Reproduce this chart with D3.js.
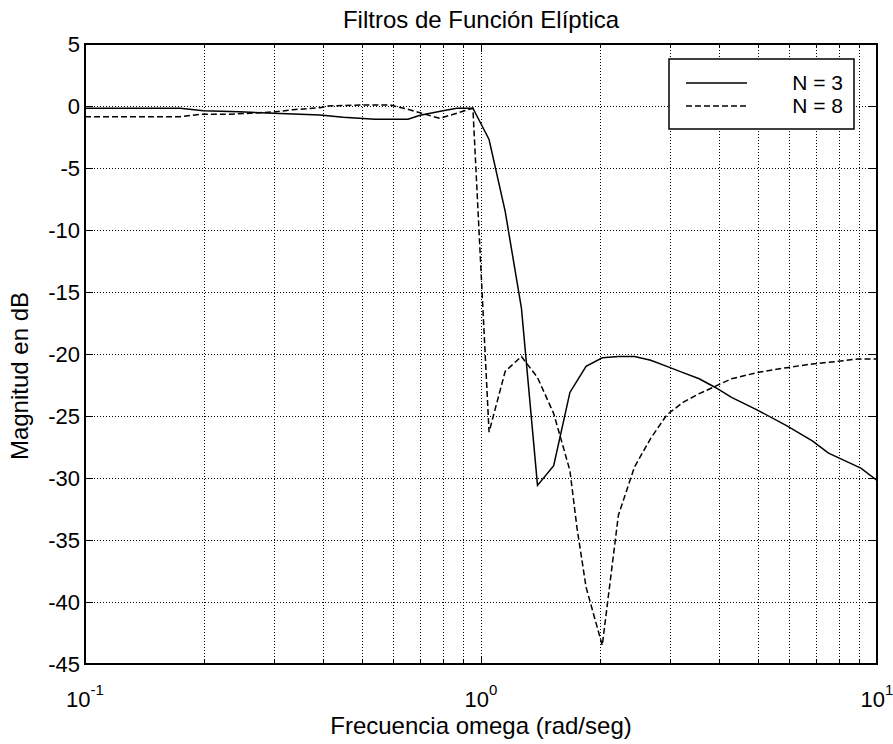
<!DOCTYPE html>
<html>
<head>
<meta charset="utf-8">
<script src="https://cdn.jsdelivr.net/npm/d3@7"></script>
<style>
  body { margin: 0; background: #fff; }
  text { font-family: "Liberation Sans", Arial, sans-serif; fill: #000; }
</style>
</head>
<body>
<script>
// frequency (rad/seg) and magnitude (dB)
var wN3 = [0.1, 0.174, 0.199, 0.245, 0.299, 0.392, 0.449, 0.54, 0.654, 0.702, 0.802, 0.869, 0.954,
  1.048, 1.151, 1.265, 1.389, 1.526, 1.677, 1.842, 2.024, 2.223, 2.442, 2.683, 2.947, 3.237, 3.556,
  3.907, 4.292, 4.977, 5.924, 6.866, 7.543, 8.286, 9.103, 10];
var dbN3 = [-0.18, -0.18, -0.38, -0.46, -0.59, -0.73, -0.91, -1.07, -1.07, -0.75, -0.38, -0.19, -0.18,
  -2.7, -8.5, -16.3, -30.6, -29.0, -23.1, -21.0, -20.3, -20.2, -20.2, -20.5, -21.0, -21.5, -22.0,
  -22.7, -23.5, -24.5, -25.8, -27.0, -28.0, -28.6, -29.2, -30.2];

var wN8 = [0.1, 0.174, 0.195, 0.232, 0.299, 0.335, 0.392, 0.409, 0.494, 0.589, 0.65, 0.787, 0.954,
  1.048, 1.151, 1.265, 1.389, 1.526, 1.677, 1.747, 1.842, 2.024, 2.223, 2.442, 2.683, 2.947, 3.237,
  3.556, 4.292, 4.977, 5.924, 6.866, 7.925, 8.954, 10];
var dbN8 = [-0.86, -0.86, -0.67, -0.67, -0.48, -0.3, -0.14, 0, 0.08, 0.08, -0.24, -1.0, -0.18,
  -26.3, -21.4, -20.2, -21.9, -24.8, -29.4, -34.0, -38.8, -43.5, -33.0, -29.1, -26.8, -24.9, -23.9,
  -23.2, -22.0, -21.5, -21.1, -20.8, -20.6, -20.4, -20.4];

var yTicks = [5, 0, -5, -10, -15, -20, -25, -30, -35, -40, -45];
var xDecades = [0.1, 1, 10];
var xExp = ["-1", "0", "1"];
var seriesNames = ["N = 3", "N = 8"];

var W = 893, H = 744;
var mLeft = 85, mRight = 877, mTop = 44, mBottom = 664;

var svg = d3.select("body").append("svg").attr("width", W).attr("height", H);

var x = d3.scaleLog().domain([0.1, 10]).range([mLeft, mRight]);
var y = d3.scaleLinear().domain([-45, 5]).range([mBottom, mTop]);

// minor log grid values
var gridX = [];
xDecades.slice(0, 2).forEach(function (d) {
  for (var k = 1; k <= 9; k++) gridX.push(d * k);
});
gridX.push(10);

// grid
var grid = svg.append("g").attr("stroke", "#000").attr("stroke-width", 1)
  .attr("stroke-dasharray", "1,2");
grid.selectAll(".gx").data(gridX.filter(function (d) { return d > 0.1 && d < 10; }))
  .enter().append("line")
  .attr("x1", function (d) { return Math.round(x(d)) + 0.5; })
  .attr("x2", function (d) { return Math.round(x(d)) + 0.5; })
  .attr("y1", mTop).attr("y2", mBottom);
grid.selectAll(".gy").data(yTicks.filter(function (d) { return d > -45 && d < 5; }))
  .enter().append("line")
  .attr("y1", function (d) { return Math.round(y(d)) + 0.5; })
  .attr("y2", function (d) { return Math.round(y(d)) + 0.5; })
  .attr("x1", mLeft).attr("x2", mRight);

// ticks inside on all four sides
var ticks = svg.append("g").attr("stroke", "#000").attr("stroke-width", 1);
gridX.forEach(function (d) {
  var len = xDecades.indexOf(d) >= 0 ? 8 : 4;
  var xx = Math.round(x(d)) + 0.5;
  ticks.append("line").attr("x1", xx).attr("x2", xx).attr("y1", mBottom).attr("y2", mBottom - len);
  ticks.append("line").attr("x1", xx).attr("x2", xx).attr("y1", mTop).attr("y2", mTop + len);
});
yTicks.forEach(function (d) {
  var yy = Math.round(y(d)) + 0.5;
  ticks.append("line").attr("x1", mLeft).attr("x2", mLeft + 8).attr("y1", yy).attr("y2", yy);
  ticks.append("line").attr("x1", mRight).attr("x2", mRight - 8).attr("y1", yy).attr("y2", yy);
});

// frame
svg.append("rect").attr("x", mLeft).attr("y", mTop)
  .attr("width", mRight - mLeft).attr("height", mBottom - mTop)
  .attr("fill", "none").attr("stroke", "#000").attr("stroke-width", 2);

// y tick labels
svg.append("g").selectAll("text").data(yTicks).enter().append("text")
  .attr("x", mLeft - 5).attr("y", function (d) { return y(d) + 8; })
  .attr("text-anchor", "end").style("font-size", "22px")
  .text(function (d) { return d; });

// x tick labels 10^n
xDecades.forEach(function (d, i) {
  var t = svg.append("text").attr("x", x(d)).attr("y", 707)
    .attr("text-anchor", "middle").style("font-size", "22px");
  t.append("tspan").text("10");
  t.append("tspan").attr("dy", -12).style("font-size", "15px").text(xExp[i]);
});

// titles
svg.append("text").attr("x", (mLeft + mRight) / 2).attr("y", 28)
  .attr("text-anchor", "middle").style("font-size", "24px").text("Filtros de Función Elíptica");
svg.append("text").attr("x", (mLeft + mRight) / 2).attr("y", 734)
  .attr("text-anchor", "middle").style("font-size", "24px").text("Frecuencia omega (rad/seg)");
svg.append("text").attr("transform", "translate(28,376) rotate(-90)")
  .attr("text-anchor", "middle").style("font-size", "24px").text("Magnitud en dB");

// curves
var line = d3.line().x(function (d) { return x(d[0]); }).y(function (d) { return y(d[1]); });
svg.append("clipPath").attr("id", "clip").append("rect")
  .attr("x", mLeft).attr("y", mTop).attr("width", mRight - mLeft).attr("height", mBottom - mTop);

svg.append("path").datum(d3.zip(wN3, dbN3)).attr("d", line)
  .attr("fill", "none").attr("stroke", "#000").attr("stroke-width", 1.5)
  .attr("clip-path", "url(#clip)");
svg.append("path").datum(d3.zip(wN8, dbN8)).attr("d", line)
  .attr("fill", "none").attr("stroke", "#000").attr("stroke-width", 1.5)
  .attr("stroke-dasharray", "6,3").attr("clip-path", "url(#clip)");

// legend
var lg = svg.append("g");
lg.append("rect").attr("x", 669).attr("y", 59).attr("width", 185).attr("height", 70)
  .attr("fill", "#fff").attr("stroke", "#000").attr("stroke-width", 1.5);
lg.append("line").attr("x1", 686).attr("x2", 747).attr("y1", 83).attr("y2", 83)
  .attr("stroke", "#000").attr("stroke-width", 1.5);
lg.append("line").attr("x1", 686).attr("x2", 747).attr("y1", 106).attr("y2", 106)
  .attr("stroke", "#000").attr("stroke-width", 1.5).attr("stroke-dasharray", "6,3");
lg.selectAll("text").data(seriesNames).enter().append("text")
  .attr("x", 843).attr("y", function (d, i) { return 90 + i * 23; })
  .attr("text-anchor", "end").style("font-size", "21px")
  .text(function (d) { return d; });
</script>
</body>
</html>
